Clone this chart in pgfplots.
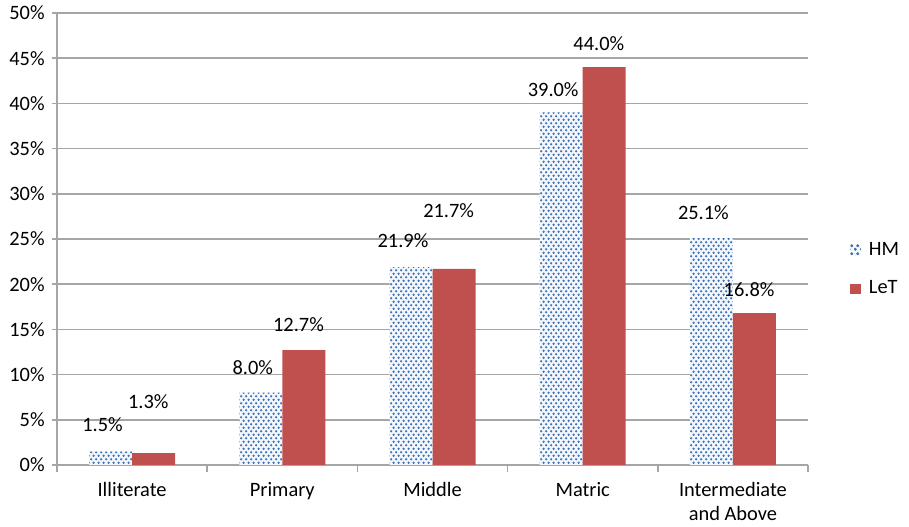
\documentclass[border=0pt]{standalone}
\usepackage{pgfplots}
\pgfplotsset{compat=1.18}
\usepackage{pgfplotstable}
\usepackage{fontspec}
\setmainfont{Carlito}
\usetikzlibrary{patterns.meta}
\definecolor{letred}{HTML}{C0504D}
\definecolor{hmblue}{HTML}{3F72B8}
\definecolor{gridgray}{HTML}{A6A6A6}
\tikzdeclarepattern{
  name=mydots,
  type=uncolored,
  bounding box={(0,0) and (4pt,5.6pt)},
  tile size={(4pt,5.6pt)},
  code={
    \fill (1pt,1.4pt) circle (1.05pt);
    \fill (3pt,4.2pt) circle (1.05pt);
  }
}
\pgfplotstableread{
x v dy
0 1.5 19.8
1 8.0 18.5
2 21.9 19.5
3 39.0 16.8
4 25.1 18.8
}\hmdata
\pgfplotstableread{
x v dy
0 1.3 38.4
1 12.7 18.9
2 21.7 43.4
3 44.0 17.4
4 16.8 17.3
}\letdata
\begin{document}
\fontsize{15.3}{18}\selectfont
\begin{tikzpicture}
\useasboundingbox (-42.75pt,-46.5pt) rectangle (639pt,348.75pt);
\begin{axis}[
  scale only axis,
  width=563.25pt, height=339pt,
  ybar=0pt, bar width=32.25pt,
  xmin=-0.5, xmax=4.5,
  ymin=0, ymax=50,
  ytick={0,5,...,50},
  yticklabel={\pgfmathprintnumber{\tick}\%},
  /pgf/number format/assume math mode=true,
  xtick={0,1,2,3,4},
  xticklabels={Illiterate,Primary,Middle,Matric,{Intermediate\\and Above}},
  xticklabel style={align=center, font=\fontsize{15.3}{18}\selectfont, yshift=-4pt},
  yticklabel style={font=\fontsize{15.3}{18}\selectfont},
  minor xtick={-0.5,0.5,1.5,2.5,3.5,4.5},
  major x tick style={draw=none},
  minor x tick style={gridgray, line width=1.2pt},
  y tick style={gridgray, line width=1.2pt},
  tick align=outside,
  major tick length=4pt, minor tick length=5pt,
  axis x line*=bottom, axis y line*=left,
  axis line style={gridgray, line width=1.2pt, -},
  ymajorgrids, grid style={gridgray, line width=1.2pt},
  every node near coord/.append style={font=\fontsize{15.3}{18}\selectfont, anchor=center},
  nodes near coords={\pgfmathprintnumber[fixed,fixed zerofill,precision=1]{\pgfplotspointmeta}\%},
  point meta=explicit,
  visualization depends on={\thisrow{dy} \as \dy},
  legend style={at={(1.056,0.4325)}, anchor=west, draw=none, fill=none,
    font=\fontsize{15.3}{18}\selectfont, row sep=13pt, inner sep=0pt},
  legend cell align=left,
  clip=false,
]
\addplot[draw=none, fill=hmblue!6, postaction={pattern={mydots}, pattern color=hmblue},
  every node near coord/.append style={yshift=\dy pt, xshift=-6pt},
  area legend,
  legend image code/.code={\fill[hmblue!6] (0pt,-3.9pt) rectangle (7.8pt,3.9pt);
    \fill[pattern={mydots}, pattern color=hmblue] (0pt,-3.9pt) rectangle (7.8pt,3.9pt);
    \path (12pt,0pt);}]
  table[x=x, y=v, meta=v] {\hmdata};
\addlegendentry{HM}
\addplot[draw=none, fill=letred,
  every node near coord/.append style={yshift=\dy pt, xshift=-4pt},
  legend image code/.code={\fill[letred] (0pt,-3.9pt) rectangle (7.8pt,3.9pt);
    \path (12pt,0pt);}]
  table[x=x, y=v, meta=v] {\letdata};
\addlegendentry{LeT}
\end{axis}
\end{tikzpicture}
\end{document}
